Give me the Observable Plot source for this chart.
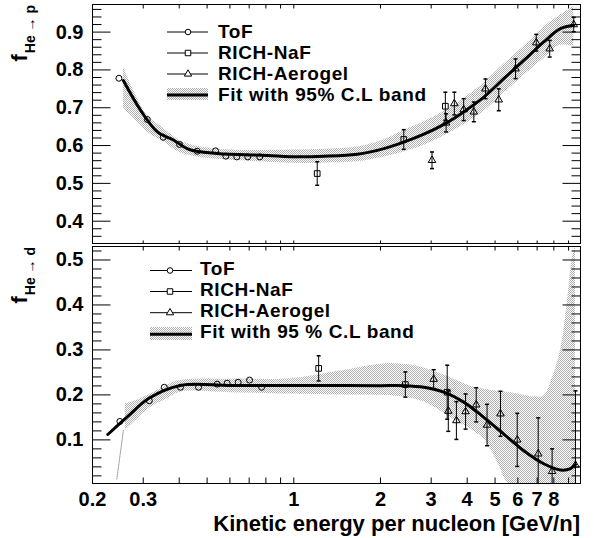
<!DOCTYPE html>
<html><head><meta charset="utf-8">
<script src="https://cdn.jsdelivr.net/npm/d3@7"></script>
<script src="https://cdn.jsdelivr.net/npm/@observablehq/plot@0.6"></script>
<style>
body{margin:0;background:#fff;}
#chart{position:relative;width:594px;height:538px;background:#fff;}
#chart svg{position:absolute;left:0;}
</style></head><body><div id="chart"></div>
<script>
// ---------- axis settings ----------
const xDomain = [0.2, 9.9];
const xMinorTicks = [0.3,0.4,0.5,0.6,0.7,0.8,0.9,1,2,3,4,5,6,7,8,9];
const xTickLabels = [0.2,0.3,1,2,3,4,5,6,7,8];
const yDomainP = [0.341, 0.973];
const yMajorP = [0.4,0.5,0.6,0.7,0.8,0.9];
const yDomainD = [0.003, 0.53];
const yMajorD = [0.1,0.2,0.3,0.4,0.5];

// ---------- top panel: f He->p ----------
const tofE_p = [0.247,0.310,0.352,0.401,0.462,0.535,0.581,0.634,0.692,0.762];
const tofV_p = [0.778,0.669,0.622,0.603,0.585,0.586,0.572,0.570,0.570,0.570];

const nafE_p = [1.206,2.41,3.36];
const nafV_p = [0.526,0.616,0.704];
const nafErr_p = [0.031,0.026,0.037];

const aerE_p = [3.02,3.38,3.61,3.89,4.22,4.63,5.15,5.89,6.95,7.74,9.38];
const aerV_p = [0.561,0.660,0.711,0.695,0.689,0.750,0.721,0.803,0.872,0.856,0.920];
const aerErr_p = [0.022,0.024,0.030,0.029,0.026,0.026,0.029,0.026,0.022,0.022,0.019];

const fitE_p = [0.256,0.294,0.336,0.383,0.432,0.542,0.808,0.974,1.271,1.66,2.055,2.41,2.83,3.32,3.89,4.57,5.36,6.29,7.38,8.43,9.38];
const fitV_p = [0.772,0.693,0.636,0.614,0.590,0.579,0.574,0.5706,0.5717,0.577,0.592,0.609,0.630,0.656,0.689,0.728,0.777,0.825,0.874,0.909,0.918];

const bandE_p = [0.256,0.31,0.35,0.40,0.46,0.6,1.0,1.27,1.66,2.05,2.41,2.83,3.32,3.89,4.57,5.36,6.29,7.38,8.43,9.38];
const bandLo_p = [0.700,0.636,0.612,0.582,0.570,0.562,0.553,0.554,0.557,0.569,0.583,0.600,0.625,0.655,0.690,0.738,0.785,0.830,0.865,0.862];
const bandHi_p = [0.808,0.680,0.648,0.614,0.598,0.588,0.588,0.590,0.596,0.615,0.640,0.662,0.690,0.724,0.765,0.815,0.862,0.912,0.945,0.967];

// ---------- bottom panel: f He->d ----------
const tofE_d = [0.249,0.315,0.355,0.404,0.467,0.542,0.587,0.641,0.702,0.773];
const tofV_d = [0.141,0.187,0.217,0.217,0.217,0.224,0.226,0.228,0.233,0.217];

const nafE_d = [1.22,2.44,3.41];
const nafV_d = [0.259,0.223,0.206];
const nafErr_d = [0.028,0.028,0.060];

const aerE_d = [3.06,3.44,3.67,3.95,4.30,4.69,5.22,5.97,7.06,7.89,9.51];
const aerV_d = [0.235,0.164,0.143,0.163,0.178,0.133,0.158,0.100,0.069,0.030,0.044];
const aerErr_d = [0.021,0.045,0.042,0.039,0.038,0.046,0.050,0.059,0.080,0.050,0.165];

const fitE_d = [0.226,0.267,0.315,0.404,0.6,1.0,1.5,2.0,2.41,2.83,3.32,3.89,4.57,5.36,6.29,7.38,8.43,9.14,9.51];
const fitV_d = [0.112,0.154,0.193,0.221,0.221,0.221,0.221,0.2206,0.2206,0.217,0.206,0.184,0.150,0.113,0.076,0.047,0.033,0.036,0.045];

const bandE_d = [0.26,0.29,0.318,0.36,0.404,0.6,0.97,1.5,2.05,2.41,2.83,3.23,3.6,4.22,4.63,5.1,5.65,7.0,7.4,7.78,8.43,8.87,9.25,9.51];
const bandLo_d = [0.121,0.150,0.172,0.190,0.206,0.205,0.202,0.200,0.199,0.195,0.185,0.165,0.145,0.120,0.098,0.050,0.0,0.0,0.0,0.0,0.0,0.0,0.0,0.0];
const bandHi_d = [0.180,0.190,0.202,0.220,0.232,0.235,0.236,0.255,0.269,0.268,0.260,0.247,0.235,0.217,0.212,0.208,0.205,0.195,0.198,0.225,0.298,0.395,0.500,0.530];
const tailE_d = [0.243,0.256];
const tailV_d = [0.013,0.121];

// ---------- texts ----------
const legendLabelsP = ["ToF","RICH-NaF","RICH-Aerogel","Fit with 95% C.L band"];
const legendLabelsD = ["ToF","RICH-NaF","RICH-Aerogel","Fit with 95 % C.L band"];
const yTitleSubP = "He \u2192 p";
const yTitleSubD = "He \u2192 d";
const xTitle = "Kinetic energy per nucleon [GeV/n]";

const FONT = '"Liberation Sans", Arial, Helvetica, sans-serif';

const pts = (E, V, Err) => E.map((e, i) => ({E: e, v: V[i], err: Err ? Err[i] : 0}));
const band = (E, L, H) => E.map((e, i) => ({E: e, lo: L[i], hi: H[i]}));

const lineSym = (dx, dy) => ({draw(ctx) { ctx.moveTo(0, 0); ctx.lineTo(dx, dy); }});
const capSym = {draw(ctx) { ctx.moveTo(-2, 0); ctx.lineTo(2, 0); }};

function minors(from, to, majors) {
  const out = [];
  for (let i = from; i <= to; i++) {
    const v = +(i * 0.02).toFixed(2);
    if (!majors.some(m => Math.abs(m - v) < 1e-6)) out.push(v);
  }
  return out;
}

function frameTicks(yMaj, yMin, topLen, botLen) {
  const s = {stroke: "black", fill: "none", strokeWidth: 1};
  return [
    Plot.dot(yMaj, {y: d => d, frameAnchor: "left", symbol: lineSym(18, 0), ...s}),
    Plot.dot(yMin, {y: d => d, frameAnchor: "left", symbol: lineSym(9, 0), ...s}),
    Plot.dot(yMaj, {y: d => d, frameAnchor: "right", symbol: lineSym(-18, 0), ...s}),
    Plot.dot(yMin, {y: d => d, frameAnchor: "right", symbol: lineSym(-9, 0), ...s}),
    Plot.dot(xMinorTicks, {x: d => d, frameAnchor: "top", symbol: lineSym(0, topLen), ...s}),
    Plot.dot(xMinorTicks, {x: d => d, frameAnchor: "bottom", symbol: lineSym(0, -botLen), ...s}),
    Plot.frame({stroke: "black", strokeWidth: 1})
  ];
}

function dataMarks(tof, naf, aer, fit, bnd, patId, extra) {
  return [
    Plot.areaY(bnd, {x: "E", y1: "lo", y2: "hi", fill: `url(#${patId})`, curve: "catmull-rom", clip: true}),
    ...(extra || []),
    Plot.line(fit, {x: "E", y: "v", stroke: "black", strokeWidth: 3, curve: "catmull-rom", clip: true}),
    Plot.ruleX([...naf, ...aer], {x: "E", y1: d => d.v - d.err, y2: d => d.v + d.err, stroke: "black", strokeWidth: 1, clip: true}),
    Plot.dot([...naf, ...aer], {x: "E", y: d => d.v + d.err, symbol: capSym, stroke: "black", fill: "none", clip: true}),
    Plot.dot([...naf, ...aer], {x: "E", y: d => d.v - d.err, symbol: capSym, stroke: "black", fill: "none", clip: true}),
    Plot.dot(tof, {x: "E", y: "v", symbol: "circle", r: 3, stroke: "black", strokeWidth: 1, fill: "none"}),
    Plot.dot(naf, {x: "E", y: "v", symbol: "square", r: 3.2, stroke: "black", strokeWidth: 1, fill: "none"}),
    Plot.dot(aer, {x: "E", y: "v", symbol: "triangle", r: 2.8, stroke: "black", strokeWidth: 1, fill: "none"})
  ];
}

function addPattern(svg, id) {
  const p = d3.select(svg).insert("defs", ":first-child")
    .append("pattern").attr("id", id).attr("width", 2).attr("height", 2)
    .attr("patternUnits", "userSpaceOnUse");
  p.append("rect").attr("x", 0).attr("y", 0).attr("width", 1).attr("height", 1).attr("fill", "#b0b0b0").attr("shape-rendering", "crispEdges");
  p.append("rect").attr("x", 1).attr("y", 1).attr("width", 1).attr("height", 1).attr("fill", "#b0b0b0").attr("shape-rendering", "crispEdges");
}

function addLegend(svg, labels, cfg, patId) {
  const g = d3.select(svg).append("g").attr("font-family", FONT).attr("font-size", 19)
    .attr("font-weight", "bold").attr("text-anchor", "start").attr("letter-spacing", "0.6px");
  const syms = [d3.symbolCircle, d3.symbolSquare, d3.symbolTriangle];
  const sizes = [Math.PI * 2.8 * 2.8, 30, 23];
  labels.forEach((lab, i) => {
    const base = cfg.baselines[i];
    const ly = cfg.lineYs[i];
    if (i < 3) {
      g.append("line").attr("x1", cfg.x1).attr("x2", cfg.x2).attr("y1", ly).attr("y2", ly).attr("stroke", "black").attr("stroke-width", 1);
      g.append("path").attr("d", d3.symbol(syms[i], sizes[i])()).attr("transform", `translate(${cfg.xm},${ly})`)
        .attr("fill", "white").attr("stroke", "black").attr("stroke-width", 1);
    } else {
      g.append("rect").attr("x", cfg.x1).attr("y", cfg.boxY).attr("width", cfg.x2 - cfg.x1).attr("height", cfg.boxH).attr("fill", `url(#${patId})`);
      g.append("line").attr("x1", cfg.x1).attr("x2", cfg.x2).attr("y1", ly).attr("y2", ly).attr("stroke", "black").attr("stroke-width", 3);
    }
    g.append("text").attr("x", cfg.xt).attr("y", base).attr("text-anchor", "start").text(lab);
  });
}

function addYTitle(svg, sub, x, yTop) {
  const t = d3.select(svg).append("text").attr("transform", `translate(${x},${yTop}) rotate(-90)`)
    .attr("text-anchor", "end").attr("font-family", FONT).attr("font-weight", "bold").attr("font-size", 22);
  t.append("tspan").text("f");
  t.append("tspan").attr("font-size", 14).attr("dy", 8).attr("dx", 1).text(sub);
}

const chart = document.getElementById("chart");
const commonStyle = {fontFamily: FONT, fontSize: "20px", fontWeight: "bold", background: "transparent", color: "black"};

// top plot
const svgTop = Plot.plot({
  width: 594, height: 244,
  marginLeft: 92, marginRight: 14, marginTop: 4, marginBottom: 1,
  style: commonStyle,
  x: {type: "log", domain: xDomain, axis: null},
  y: {domain: yDomainP, ticks: yMajorP, tickSize: 0, tickPadding: 9, tickFormat: d3.format(".1f"), label: null},
  marks: [
    ...dataMarks(pts(tofE_p, tofV_p), pts(nafE_p, nafV_p, nafErr_p), pts(aerE_p, aerV_p, aerErr_p),
                 pts(fitE_p, fitV_p), band(bandE_p, bandLo_p, bandHi_p), "stipP"),
    ...frameTicks(yMajorP, minors(18, 48, yMajorP), 4, 3)
  ]
});
addPattern(svgTop, "stipP");
addLegend(svgTop, legendLabelsP, {x1: 167, x2: 208, xm: 188, xt: 218,
  baselines: [37.5, 58.8, 80.1, 101.4], lineYs: [32, 53, 74, 95], boxY: 88, boxH: 12}, "stipP");
addYTitle(svgTop, yTitleSubP, 27, 5);
svgTop.style.top = "0px";
chart.appendChild(svgTop);

// bottom plot
const tail = pts(tailE_d, tailV_d);
const svgBot = Plot.plot({
  width: 594, height: 294,
  marginLeft: 92, marginRight: 14, marginTop: 2, marginBottom: 55,
  style: commonStyle,
  x: {type: "log", domain: xDomain, axis: null},
  y: {domain: yDomainD, ticks: yMajorD, tickSize: 0, tickPadding: 9, tickFormat: d3.format(".1f"), label: null},
  marks: [
    ...dataMarks(pts(tofE_d, tofV_d), pts(nafE_d, nafV_d, nafErr_d), pts(aerE_d, aerV_d, aerErr_d),
                 pts(fitE_d, fitV_d), band(bandE_d, bandLo_d, bandHi_d), "stipD",
                 [Plot.line(tail, {x: "E", y: "v", stroke: "#999", strokeWidth: 1, strokeDasharray: "1,1", clip: true})]),
    ...frameTicks(yMajorD, minors(1, 26, yMajorD), 4, 6),
    Plot.text(xTickLabels, {x: d => d, text: d => String(d), frameAnchor: "bottom", lineAnchor: "top", dy: 8,
      fontSize: 20, fontWeight: "bold", fontFamily: FONT, fill: "black"})
  ]
});
addPattern(svgBot, "stipD");
addLegend(svgBot, legendLabelsD, {x1: 150, x2: 192, xm: 170, xt: 200,
  baselines: [30.5, 51.8, 73.1, 94.4], lineYs: [26.5, 47.5, 68.7, 90.3], boxY: 83, boxH: 13}, "stipD");
addYTitle(svgBot, yTitleSubD, 27, 3);
d3.select(svgBot).append("text").attr("x", 580).attr("y", 287).attr("text-anchor", "end")
  .attr("font-family", FONT).attr("font-weight", "bold").attr("font-size", 22).text(xTitle);
svgBot.style.top = "244px";
chart.appendChild(svgBot);
</script></body></html>
